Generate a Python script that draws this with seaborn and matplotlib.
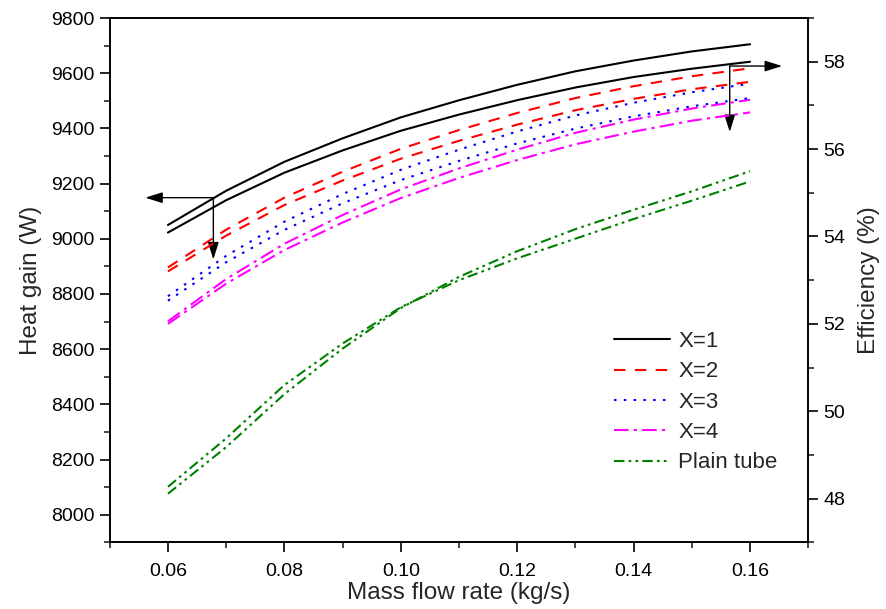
import numpy as np
import pandas as pd
import matplotlib
matplotlib.use("Agg")
import matplotlib.pyplot as plt
import seaborn as sns
from matplotlib.ticker import MultipleLocator, FormatStrFormatter
from matplotlib.lines import Line2D

# ---------------- data ----------------
mass_flow = [0.06, 0.07, 0.08, 0.09, 0.10, 0.11, 0.12, 0.13, 0.14, 0.15, 0.16]
series_labels = ["X=1", "X=2", "X=3", "X=4", "Plain tube"]

heat_x1 = [9050, 9174, 9279, 9364, 9440, 9502, 9558, 9607, 9646, 9679, 9705]
heat_x2 = [8896, 9033, 9149, 9243, 9326, 9394, 9456, 9510, 9553, 9589, 9618]
heat_x3 = [8792, 8938, 9062, 9162, 9250, 9323, 9389, 9447, 9493, 9531, 9562]
heat_x4 = [8701, 8854, 8982, 9086, 9179, 9255, 9323, 9384, 9432, 9472, 9504]
heat_plain = [8076, 8245, 8437, 8602, 8749, 8862, 8955, 9035, 9105, 9172, 9245]

eff_x1 = [54.09, 54.83, 55.46, 55.97, 56.42, 56.79, 57.12, 57.41, 57.65, 57.84, 58.00]
eff_x2 = [53.20, 54.02, 54.72, 55.28, 55.78, 56.19, 56.56, 56.89, 57.15, 57.37, 57.54]
eff_x3 = [52.53, 53.41, 54.15, 54.76, 55.29, 55.73, 56.13, 56.47, 56.75, 56.98, 57.17]
eff_x4 = [52.00, 52.92, 53.69, 54.32, 54.88, 55.34, 55.75, 56.11, 56.40, 56.65, 56.84]
eff_plain = [48.27, 49.38, 50.60, 51.55, 52.38, 53.00, 53.50, 53.95, 54.40, 54.82, 55.26]

heat_series = [heat_x1, heat_x2, heat_x3, heat_x4, heat_plain]
eff_series = [eff_x1, eff_x2, eff_x3, eff_x4, eff_plain]

colors = ["#000000", "#ff0000", "#0000ff", "#ff00ff", "#008000"]
styles = ["-", (0, (5.5, 4.5)), (0, (1.2, 3.5)), (0, (7, 2.5, 1.5, 2.5)),
          (0, (5, 2, 1.3, 2, 1.3, 2))]

# ---------------- style ----------------
sns.set_style("ticks")
plt.rcParams["font.family"] = ["Liberation Sans", "DejaVu Sans"]
plt.rcParams["axes.linewidth"] = 1.2

fig = plt.figure(figsize=(8.87, 6.09), dpi=100)
ax = fig.add_axes([0.1237, 0.1095, 0.7876, 0.8609])
ax2 = ax.twinx()

for lab, h, e, c, ls in zip(series_labels, heat_series, eff_series, colors, styles):
    dfh = pd.DataFrame({"m": mass_flow, "v": h})
    dfe = pd.DataFrame({"m": mass_flow, "v": e})
    sns.lineplot(data=dfh, x="m", y="v", ax=ax, color=c, linestyle=ls,
                 linewidth=1.5, legend=False)
    sns.lineplot(data=dfe, x="m", y="v", ax=ax2, color=c, linestyle=ls,
                 linewidth=1.5, legend=False)

ax.set_xlim(0.05, 0.17)
ax.set_ylim(7900, 9800)
ax2.set_ylim(47, 59)

ax.xaxis.set_minor_locator(MultipleLocator(0.01))
ax.yaxis.set_minor_locator(MultipleLocator(100))
ax2.yaxis.set_minor_locator(MultipleLocator(1))
ax.xaxis.set_major_formatter(FormatStrFormatter("%.2f"))
ax.set_xticks([0.06, 0.08, 0.10, 0.12, 0.14, 0.16])
ax.set_yticks([8000, 8200, 8400, 8600, 8800, 9000, 9200, 9400, 9600, 9800])
ax2.set_yticks([48, 50, 52, 54, 56, 58])

for a in (ax, ax2):
    a.tick_params(which="major", direction="out", length=7, width=1.2,
                  labelsize=14, pad=4, colors="black")
    a.tick_params(which="minor", direction="out", length=4.5, width=1.2)
    for s in a.spines.values():
        s.set_visible(True)
        s.set_color("black")
        s.set_linewidth(1.2)
ax.tick_params(axis="x", which="major", pad=8)
ax.tick_params(top=False, right=False)
ax2.tick_params(left=False, top=False)

ax.set_xlabel("Mass flow rate (kg/s)", fontsize=17.5, labelpad=1)
ax.set_ylabel("Heat gain (W)", fontsize=17.5, labelpad=6)
ax2.set_ylabel("Efficiency (%)", fontsize=17.5, labelpad=9)

# arrows
ap = dict(arrowstyle="-|>,head_length=0.7,head_width=0.22", color="black",
          lw=1.0, shrinkA=0, shrinkB=0, mutation_scale=15)
ax.annotate("", xy=(0.0561, 9149), xytext=(0.0678, 9149), arrowprops=ap)
ax.annotate("", xy=(0.0678, 8925), xytext=(0.0678, 9149), arrowprops=ap)
ax.annotate("", xy=(0.1655, 9626), xytext=(0.1565, 9626), arrowprops=ap)
ax.annotate("", xy=(0.1565, 9387), xytext=(0.1565, 9626), arrowprops=ap)

handles = [Line2D([], [], color=c, linestyle=ls, linewidth=1.5)
           for c, ls in zip(colors, styles)]
leg = ax2.legend(handles, series_labels, loc="upper left",
                 bbox_to_anchor=(614 / 887, 1 - 331 / 609),
                 bbox_transform=fig.transFigure, frameon=False,
                 fontsize=16, handlelength=2.5, handletextpad=0.4,
                 labelspacing=0.42, borderpad=0, borderaxespad=0)

fig.savefig("out.png", dpi=100)
